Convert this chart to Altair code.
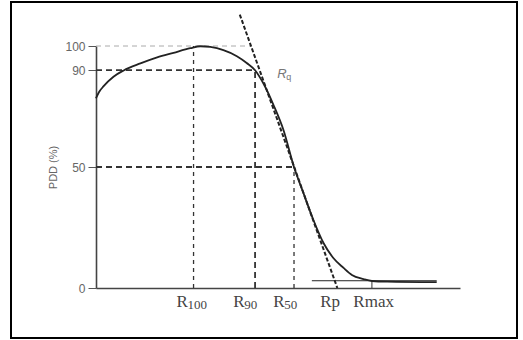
import altair as alt
import pandas as pd

# ---- data (depth in arbitrary units, PDD in %) ----
depth = [0, 0.8, 2.1, 4.8, 7.6, 12.2, 16.8, 21.3, 25.9, 28.7, 31.4, 35.0, 38.7,
         41.4, 43.7, 46.0, 48.8, 51.5, 54.4, 57.0, 59.7, 62.5, 65.2, 68.0, 70.3,
         73.5, 75.8, 80.0, 93.6]
pdd = [78.4, 80.9, 83.4, 87.3, 89.9, 92.8, 95.3, 97.2, 99.1, 99.9, 99.6, 98.3, 95.8,
       93.0, 90.0, 84.5, 75.5, 65.3, 50.0, 39.2, 28.2, 18.6, 12.4, 8.3, 5.4,
       3.7, 2.9, 2.6, 2.4]

R100, R90, R50, RP, RMAX = 26.8, 43.7, 54.4, 66.3, 75.8
tangent_x = [39.5, 66.3]
tangent_y = [113.0, 0.0]
brems_x = [59.3, 93.6]
brems_y = [3.0, 3.0]

y_ticks = [0, 50, 90, 100]

letter_text = ["R", "R", "R", "Rp", "Rmax"]
letter_x = [22.1, 37.7, 48.7, 61.6, 70.7]
sub_text = ["100", "90", "50"]
sub_x = [22.1, 37.7, 48.7]

rq_x, rq_y = 49.8, 86.8

W, H = 364, 242
xs = alt.Scale(domain=[0, 100], nice=False)
ys = alt.Scale(domain=[0, 100], nice=False)

curve_df = pd.DataFrame({"d": depth, "p": pdd})

def seg(x1, x2, y1, y2):
    return pd.DataFrame({"x": [x1], "x2": [x2], "y": [y1], "y2": [y2]})

def rule(df, **kw):
    return alt.Chart(df).mark_rule(**kw).encode(
        x=alt.X("x:Q", scale=xs), x2="x2", y=alt.Y("y:Q", scale=ys), y2="y2")

base = alt.Chart(curve_df).mark_line(
    color="#222", strokeWidth=1.8, interpolate="monotone").encode(
    x=alt.X("d:Q", scale=xs,
            axis=alt.Axis(labels=False, ticks=False, title=None, grid=False,
                          domainColor="#444", domainWidth=1.6)),
    y=alt.Y("p:Q", scale=ys,
            axis=alt.Axis(values=y_ticks, grid=False, tickSize=8,
                          tickColor="#555", domainColor="#444", domainWidth=1.6,
                          labelColor="#666", labelFont="Liberation Sans",
                          labelFontSize=12, labelPadding=3,
                          title="PDD (%)", titleFont="Liberation Sans",
                          titleFontSize=11, titleFontWeight="normal",
                          titleColor="#666", titlePadding=6)),
)

dark = dict(color="#333", strokeWidth=1.8, strokeDash=[6, 4])
thin = dict(color="#333", strokeWidth=1.3, strokeDash=[4, 4])

h100 = rule(seg(0, 42.4, 100, 100), color="#aaa", strokeWidth=1, strokeDash=[5, 4])
h90 = rule(seg(0, R90, 90, 90), **dark)
h50 = rule(seg(0, R50, 50, 50), **dark)
v100 = rule(seg(R100, R100, 0, 100), **thin)
v90 = rule(seg(R90, R90, 0, 90), **dark)
v50 = rule(seg(R50, R50, 0, 50), **thin)
vmax = rule(seg(RMAX, RMAX, 0, brems_y[0]), color="#333", strokeWidth=1)

tangent = alt.Chart(pd.DataFrame({"x": tangent_x, "y": tangent_y})).mark_line(
    color="#222", strokeWidth=2, strokeDash=[4, 2]).encode(
    x=alt.X("x:Q", scale=xs), y=alt.Y("y:Q", scale=ys))

brems = alt.Chart(pd.DataFrame({"x": brems_x, "y": brems_y})).mark_line(
    color="#222", strokeWidth=1).encode(
    x=alt.X("x:Q", scale=xs), y=alt.Y("y:Q", scale=ys))

letters = alt.Chart(pd.DataFrame({"x": letter_x, "t": letter_text, "y": 0})).mark_text(
    font="Liberation Serif", fontSize=17, color="#444", align="left",
    baseline="alphabetic", dy=19).encode(
    x=alt.X("x:Q", scale=xs), y=alt.Y("y:Q", scale=ys), text="t:N")

subs = alt.Chart(pd.DataFrame({"x": sub_x, "t": sub_text, "y": 0})).mark_text(
    font="Liberation Serif", fontSize=13, color="#444", align="left",
    baseline="alphabetic", dx=11, dy=21).encode(
    x=alt.X("x:Q", scale=xs), y=alt.Y("y:Q", scale=ys), text="t:N")

rq_df = pd.DataFrame({"x": [rq_x], "y": [rq_y], "a": ["R"], "b": ["q"]})
rq_R = alt.Chart(rq_df).mark_text(
    font="Liberation Sans", fontSize=13, fontStyle="italic", color="#777",
    align="left", baseline="alphabetic").encode(
    x=alt.X("x:Q", scale=xs), y=alt.Y("y:Q", scale=ys), text="a:N")
rq_q = alt.Chart(rq_df).mark_text(
    font="Liberation Sans", fontSize=9, color="#777",
    align="left", baseline="alphabetic", dx=9, dy=2).encode(
    x=alt.X("x:Q", scale=xs), y=alt.Y("y:Q", scale=ys), text="b:N")

frame = alt.Chart(pd.DataFrame({"k": [0]})).mark_rect(
    fillOpacity=0, stroke="black", strokeWidth=2).encode(
    x=alt.value(-85), x2=alt.value(421), y=alt.value(-44), y2=alt.value(292))

chart = alt.layer(
    h100, h90, h50, v100, v90, v50, tangent, brems, vmax, base,
    letters, subs, rq_R, rq_q, frame
).properties(
    width=W, height=H,
    autosize=alt.AutoSizeParams(type="none"),
    padding={"left": 96, "top": 46, "right": 523 - 96 - W, "bottom": 340 - 46 - H},
    background="white",
).configure_view(stroke=None)

chart.save("out.html", embed_options={"renderer": "svg", "actions": False})
